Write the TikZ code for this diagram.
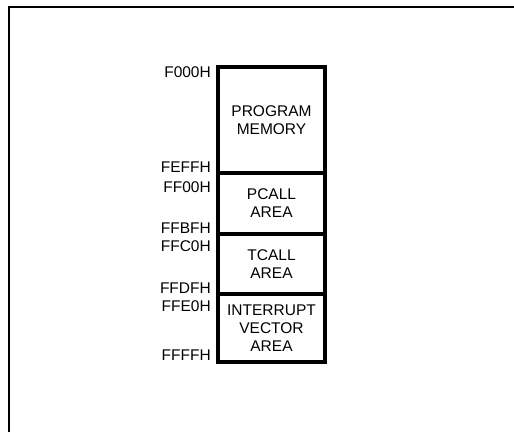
\documentclass[tikz,border=0pt]{standalone}
\usepackage{fontspec}
\setmainfont{Liberation Sans}
\begin{document}
\begin{tikzpicture}[x=1pt,y=-1pt,
  region/.style={draw, line width=3.8pt, minimum width=107pt, inner sep=0pt, align=center, font=\fontsize{15.5}{18}\selectfont},
  addr/.style={anchor=east, inner sep=0pt, font=\fontsize{15.5}{18}\selectfont}]
\useasboundingbox (0,0) rectangle (514,432);
\draw[line width=2.6pt] (9,432) coordinate (fb) -- (9,7) coordinate (fc) -- (514,7) coordinate (fr);
\node[region, minimum height=106pt] (pm) at (271.5,120) {PROGRAM\\MEMORY};
\node[region, minimum height=61pt] (pc) at (271.5,203.5) {PCALL\\AREA};
\node[region, minimum height=60pt] (tc) at (271.5,264) {TCALL\\AREA};
\node[region, minimum height=68pt] (iv) at (271.5,328) {INTERRUPT\\VECTOR\\AREA};
\node[addr] (a1) at (211,72) {F000H};
\node[addr] (a2) at (211,167) {FEFFH};
\node[addr] (a3) at (211,187) {FF00H};
\node[addr] (a4) at (211,228) {FFBFH};
\node[addr] (a5) at (211,246) {FFC0H};
\node[addr] (a6) at (211,288) {FFDFH};
\node[addr] (a7) at (211,306) {FFE0H};
\node[addr] (a8) at (211,355) {FFFFH};
\end{tikzpicture}
\end{document}
